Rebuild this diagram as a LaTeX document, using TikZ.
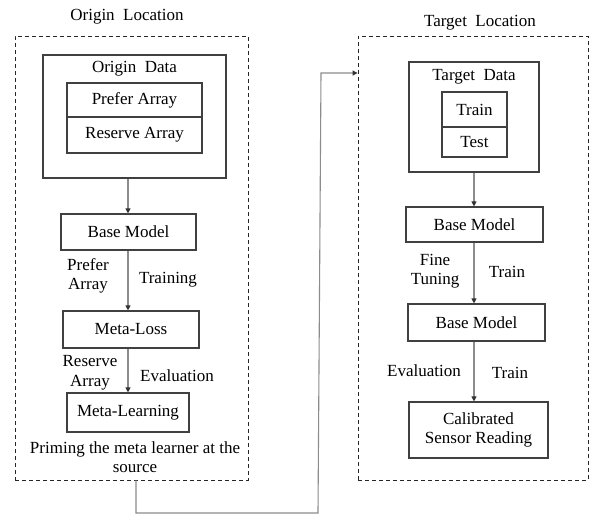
\documentclass[tikz,border=0pt]{standalone}
\usepackage{fontspec}
\setmainfont{Liberation Serif}
\usetikzlibrary{arrows.meta,calc}
\begin{document}
\begin{tikzpicture}[x=1pt,y=-1pt,
  font=\fontsize{17}{19.5}\selectfont,
  dashbox/.style={draw=black!85,line width=0.9pt,dash pattern=on 4pt off 3pt,inner sep=0pt},
  box/.style={draw=black!75,line width=1.2pt,inner sep=0pt,align=center},
  conn/.style={draw=black!45,line width=1.1pt,
    arrows={-{Triangle[length=5pt,width=5pt,fill=black!80,color=black!80]}}},
  lbl/.style={align=center,inner sep=0pt}
]
\useasboundingbox (0,0) rectangle (589,515);

% dashed regions
\node[dashbox,minimum width=233pt,minimum height=444pt] (origbox) at (131.5,258) {};
\node[dashbox,minimum width=230pt,minimum height=444pt] (tarbox) at (473,258) {};
\node[lbl] (origloc) at (127,17) {Origin\ \ Location};
\node[lbl] (tarloc) at (480,23) {Target\ \ Location};

% origin side
\node[box,minimum width=183pt,minimum height=123pt] (odata) at (134.5,116.5) {};
\node[lbl] (odatalbl) at (134.5,69) {Origin\ \ Data};
\node[box,minimum width=135pt,minimum height=34pt] (prefer) at (134.5,100) {Prefer Array};
\node[box,minimum width=135pt,minimum height=36pt] (reserve) at (134.5,135) {Reserve Array};
\node[box,minimum width=135pt,minimum height=36pt] (obase) at (128.5,232) {Base Model};
\node[box,minimum width=136pt,minimum height=37pt] (mloss) at (131,329.5) {Meta-Loss};
\node[box,minimum width=122pt,minimum height=39pt] (mlearn) at (128,412.5) {Meta-Learning};
\node[lbl] (prim) at (135,457) {Priming the meta learner at the\\source};

\draw[conn] (odata.south -| 128,0) -- (obase.north -| 128,0);
\draw[conn] (obase.south -| 128,0) -- (mloss.north -| 128,0);
\draw[conn] (mloss.south -| 128,0) -- (mlearn.north -| 128,0);
\node[lbl] (l1) at (88,276) {Prefer\\Array};
\node[lbl] (l2) at (168,280) {Training};
\node[lbl] (l3) at (90,373) {Reserve\\Array};
\node[lbl] (l4) at (177,376) {Evaluation};

% target side
\node[box,minimum width=130pt,minimum height=110pt] (tdata) at (474,117) {};
\node[lbl] (tdatalbl) at (474,77) {Target\ \ Data};
\node[box,minimum width=65pt,minimum height=35pt] (train) at (474.5,109.5) {Train};
\node[box,minimum width=65pt,minimum height=30pt] (test) at (474.5,142) {Test};
\node[box,minimum width=137pt,minimum height=35pt] (tbase) at (474.5,224.5) {Base Model};
\node[box,minimum width=137pt,minimum height=37pt] (tbase2) at (476.5,322.5) {Base Model};
\node[box,minimum width=139pt,minimum height=56pt] (calib) at (478.5,430) {Calibrated\\Sensor Reading};

\draw[conn] (tdata.south -| 474,0) -- (tbase.north -| 474,0);
\draw[conn] (tbase.south -| 474,0) -- (tbase2.north -| 474,0);
\draw[conn] (tbase2.south -| 474,0) -- (calib.north -| 474,0);
\node[lbl] (l5) at (435,271) {Fine\\Tuning};
\node[lbl] (l6) at (507,272) {Train};
\node[lbl] (l7) at (424,371) {Evaluation};
\node[lbl] (l8) at (510,373) {Train};

% long connector
\coordinate (c1) at (136,513);
\coordinate (c2) at (318,513);
\coordinate (c3) at (321,73);
\draw[conn] (origbox.south -| c1) -- (c1) -- (c2) -- (c3) -- (c3 -| tarbox.west);
\end{tikzpicture}
\end{document}
